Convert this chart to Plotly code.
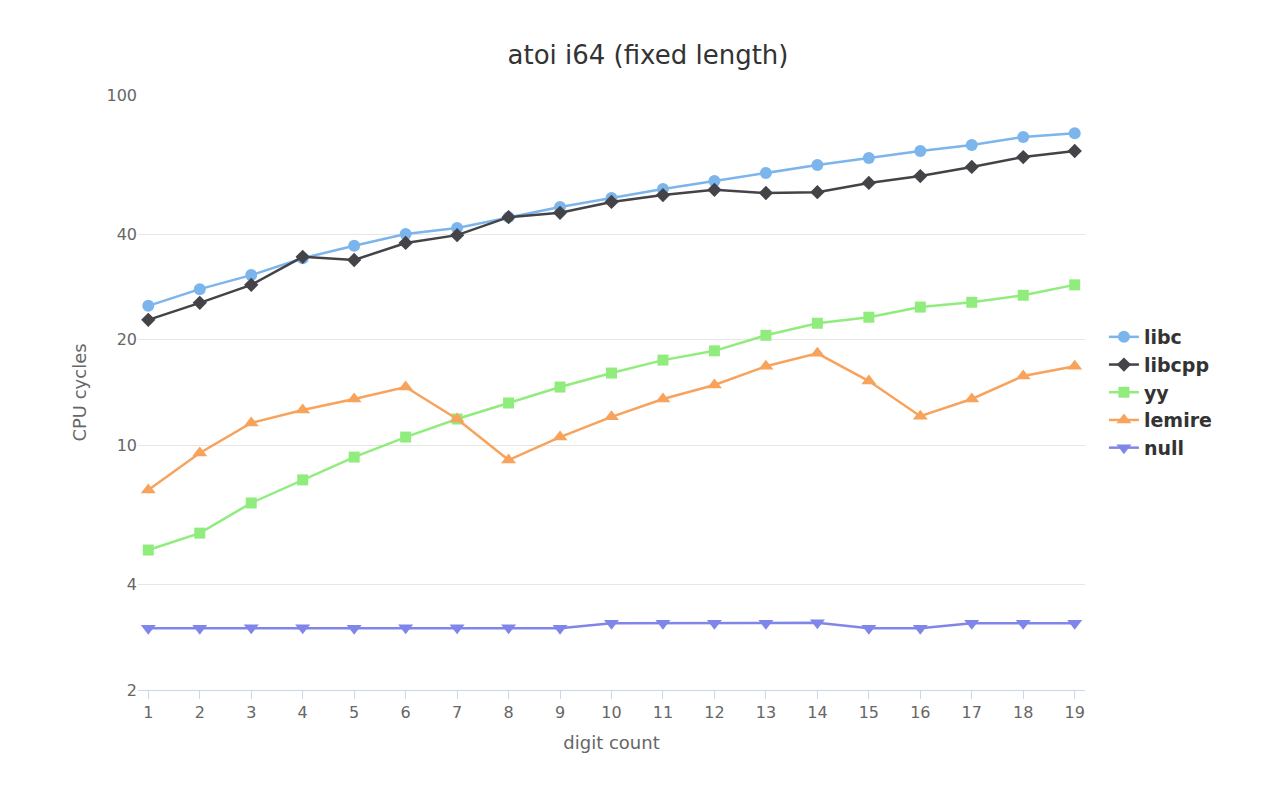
import plotly.graph_objects as go
import numpy as np

digits = list(range(1, 20))
libc = [25.0, 27.9, 30.6, 34.2, 37.1, 40.1, 41.7, 44.8, 47.9, 50.8, 53.9, 56.8, 59.9, 63.1, 66.1, 69.2, 72.0, 75.9, 77.8]
libcpp = [22.8, 25.5, 28.7, 34.5, 33.8, 37.8, 39.8, 44.8, 46.1, 49.5, 51.8, 53.6, 52.5, 52.8, 56.1, 58.7, 62.3, 66.5, 69.2]
yy = [5.02, 5.61, 6.84, 7.96, 9.25, 10.55, 11.88, 13.2, 14.66, 16.07, 17.5, 18.6, 20.6, 22.3, 23.2, 24.8, 25.6, 26.8, 28.7]
lemire = [7.45, 9.5, 11.57, 12.6, 13.55, 14.66, 11.88, 9.07, 10.55, 12.05, 13.55, 14.86, 16.8, 18.3, 15.25, 12.1, 13.55, 15.77, 16.8]
null = [3.0, 3.0, 3.01, 3.01, 3.0, 3.01, 3.01, 3.01, 3.0, 3.1, 3.1, 3.1, 3.1, 3.11, 3.0, 3.0, 3.1, 3.1, 3.1]

series = [
    ("libc", libc, "#7cb5ec", "circle", 12),
    ("libcpp", libcpp, "#434348", "diamond", 11),
    ("yy", yy, "#90ed7d", "square", 11),
    ("lemire", lemire, "#f7a35c", "triangle-up", 13),
    ("null", null, "#8085e9", "triangle-down", 13),
]

fig = go.Figure()
for name, vals, color, sym, sz in series:
    fig.add_trace(go.Scatter(x=digits, y=vals, name=name, mode="lines+markers",
                             line=dict(color=color, width=2.5),
                             marker=dict(symbol=sym, size=sz, color=color)))

fig.update_layout(
    width=1280, height=800,
    paper_bgcolor="white", plot_bgcolor="white",
    font=dict(family="DejaVu Sans", color="#666666", size=16),
    margin=dict(l=130, r=203, t=87, b=118),
    title=dict(text="atoi i64 (fixed length)", x=0.5, y=0.953, xanchor="center",
               font=dict(size=26, color="#333333")),
    xaxis=dict(title=dict(text="digit count", font=dict(size=18)), tickvals=digits,
               range=[0.8, 19.2], showgrid=False, showline=True, linecolor="#ccd6eb",
               ticks="outside", tickcolor="#ccd6eb", ticklen=8, zeroline=False),
    yaxis=dict(title=dict(text="CPU cycles", font=dict(size=18)), type="log",
               range=[np.log10(2), 2], tickvals=[2, 4, 10, 20, 40, 100],
               ticktext=["2", "4", "10", "20", "40", "100"],
               gridcolor="#e6e6e6", showline=False, zeroline=False),
    legend=dict(x=1.02, y=0.5, yanchor="middle",
                font=dict(size=19, color="#333333", weight="bold"),
                tracegroupgap=2),
)

fig.write_html("out.html")
